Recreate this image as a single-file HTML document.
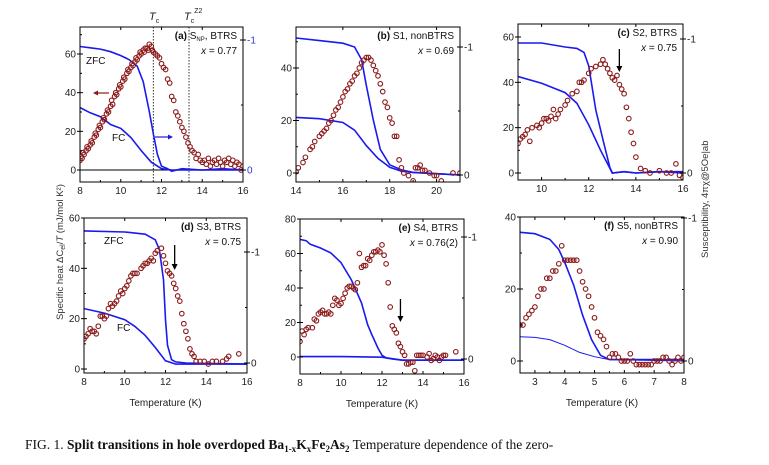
<!DOCTYPE html>
<html><head><meta charset="utf-8"><style>
body{margin:0;background:#fff;width:769px;height:460px;overflow:hidden;font-family:"Liberation Sans",sans-serif}
svg text{font-family:"Liberation Sans",sans-serif}
</style></head><body>
<svg id="fig" width="769" height="460" xmlns="http://www.w3.org/2000/svg">
<text x="0" y="0" font-size="9.5" fill="#333" transform="translate(63,320) rotate(-90)">Specific heat ΔC<tspan font-size="7" dy="2">el</tspan><tspan dy="-2">/</tspan><tspan font-style="italic">T</tspan> (mJ/mol K²)</text>
<text x="0" y="0" font-size="9.5" fill="#333" transform="translate(708,258) rotate(-90)">Susceptibility, 4πχ@5Oe|ab</text>
<text x="149" y="20" font-size="11" font-style="italic" fill="#222">T<tspan font-size="7" dy="3" font-style="normal">c</tspan></text>
<text x="184" y="20" font-size="11" font-style="italic" fill="#222">T<tspan font-size="7" dy="3" font-style="normal">c</tspan><tspan font-size="7" dy="-10" font-style="normal">Z2</tspan></text>
<text x="25" y="449" font-size="13.5" fill="#111" style="font-family:'Liberation Serif',serif">FIG. 1. <tspan font-weight="bold">Split transitions in hole overdoped Ba<tspan font-size="9" dy="3">1-x</tspan><tspan dy="-3">K</tspan><tspan font-size="9" dy="3">x</tspan><tspan dy="-3">Fe</tspan><tspan font-size="9" dy="3">2</tspan><tspan dy="-3">As</tspan><tspan font-size="9" dy="3">2</tspan></tspan><tspan dy="-3"> Temperature dependence of the zero-</tspan></text>
</svg>
<script>
// ---- data ----
const aCpT=[8,8.05,8.1,8.15,8.2,8.3,8.35,8.4,8.5,8.55,8.6,8.7,8.75,8.8,8.9,8.95,9,9.1,9.15,9.2,9.3,9.35,9.4,9.5,9.55,9.6,9.7,9.75,9.8,9.9,9.95,10,10.1,10.15,10.2,10.3,10.35,10.4,10.5,10.55,10.6,10.7,10.75,10.8,10.9,10.95,11,11.1,11.15,11.2,11.3,11.35,11.4,11.5,11.55,11.6,11.7,11.8,11.9,12,12.1,12.2,12.3,12.4,12.5,12.6,12.7,12.8,12.9,13,13.1,13.2,13.3,13.4,13.5,13.6,13.7,13.8,13.9,14,14.1,14.2,14.3,14.4,14.5,14.6,14.7,14.8,14.9,15,15.1,15.2,15.3,15.4,15.5,15.6,15.7,15.8,15.9,16];
const aCpV=[5,7,6,9,8,10,12,11,13,15,14,17,19,18,21,23,22,25,27,26,29,31,30,33,36,34,38,40,39,42,44,43,46,48,47,50,52,51,53,55,54,56,58,57,59,61,60,62,61,63,63,62,65,64,62,61,60,59,58,55,53,52,47,45,38,36,30,28,25,22,20,17,14,12,10,9,6,8,5,4,5,3,6,2,4,5,3,6,4,2,5,4,6,3,5,2,4,3,0,2];
const aZT=[8,8.5,9,9.5,10,10.4,10.8,11.1,11.4,11.6,11.8,12,12.3,12.5,13,14,15,16];
const aZV=[0.95,0.94,0.93,0.91,0.88,0.85,0.8,0.68,0.45,0.28,0.12,0.03,0.01,-0.01,0.01,0,0.01,0];
const aFT=[8,8.5,9,9.5,10,10.5,11,11.5,12,12.5,13,14,16];
const aFV=[0.48,0.44,0.41,0.35,0.32,0.25,0.15,0.06,0.01,0,0,0,0];

const bCpT=[14,14.1,14.3,14.4,14.6,14.7,14.8,15,15.1,15.2,15.3,15.4,15.5,15.6,15.7,15.8,15.9,16,16.1,16.2,16.3,16.4,16.5,16.6,16.7,16.8,16.9,17,17.1,17.2,17.3,17.4,17.5,17.6,17.7,17.8,17.9,18,18.1,18.2,18.3,18.4,18.5,18.6,18.8,19,19.1,19.2,19.3,19.4,19.5,19.7,19.9,20,20.2,20.7,21];
const bCpV=[0.5,2,4,6,9,10,12,14,15,16,17,19,20,22,24,25,27,29,31,32,34,35,37,38,40,42,43,44,44,43,41,39,37,34,31,27,25,21,19,14,14,5,2,0,-1,-3,2,2,3,1,1,0,-1,-1,-3,0,0];
const bZT=[14,15,16,16.5,16.8,17,17.3,17.6,18,18.5,19,20,21];
const bZV=[1.07,1.05,1.03,1.0,0.9,0.7,0.43,0.2,0.08,0.04,0.02,0.01,0];
const bFT=[14,15,16,16.5,17,17.5,18,18.5,19,20,21];
const bFV=[0.45,0.44,0.41,0.35,0.23,0.13,0.06,0.03,0.02,0.01,0];

const cCpT=[9,9.1,9.2,9.3,9.4,9.5,9.6,9.8,9.9,10,10.1,10.2,10.3,10.4,10.5,10.6,10.7,10.8,11,11.1,11.3,11.5,11.6,11.7,11.8,12,12.1,12.3,12.5,12.6,12.7,12.8,12.9,13,13.1,13.2,13.3,13.4,13.5,13.6,13.7,13.8,13.9,14,14.2,14.4,14.6,15,15.3,15.5,15.7,15.85,16];
const cCpV=[13,15,16,17,19,14,20,21,20,22,24,24,23,25,28,24,26,28,30,32,35,36,40,40,41,44,46,47,48,50,48,46,44,42,41,43,39,37,35,29,24,18,13,7,2,1,0,1,0,0,4,-1,-2];
const cZT=[9,10,11,11.5,11.8,12,12.3,12.6,12.9,13,13.5,14,15,16];
const cZV=[0.97,0.97,0.94,0.93,0.9,0.8,0.47,0.25,0.04,0,0.01,0,0.01,0.01];
const cFT=[9,10,11,11.5,12,12.5,13,13.5,14,15,16];
const cFV=[0.72,0.67,0.6,0.52,0.36,0.17,0,0.01,0,0.01,0];

const dCpT=[8,8.1,8.2,8.3,8.4,8.5,8.6,8.7,8.8,8.9,9,9.1,9.2,9.3,9.4,9.5,9.6,9.7,9.8,9.9,10,10.1,10.2,10.3,10.4,10.5,10.6,10.8,10.9,11,11.1,11.2,11.3,11.4,11.5,11.6,11.8,11.9,12,12.1,12.2,12.3,12.4,12.5,12.6,12.7,12.8,12.9,13,13.1,13.2,13.3,13.4,13.5,13.7,13.9,14.1,14.3,14.5,14.8,15,15.1,15.6];
const dCpV=[12,13,14,16,15,15,14,17,21,21,20,21,24,26,25,26,27,29,31,30,32,33,35,37,38,38,38,40,41,42,42,43,44,43,46,47,48,45,42,39,38,37,34,32,29,27,22,18,15,12,8,6,5,3,3,3,2,3,3,3,4,5,6];
const dZT=[8,10,11,11.5,11.7,11.9,12,12.1,12.3,12.5,13,16];
const dZV=[1.19,1.18,1.16,1.11,1.02,0.75,0.39,0.16,0.03,0.01,0,-0.01];
const dFT=[8,9,10,10.5,11,11.5,12,12.5,13,16];
const dFV=[0.49,0.45,0.39,0.33,0.25,0.14,0.02,-0.01,-0.01,-0.01];

const eCpT=[8,8.1,8.2,8.3,8.4,8.6,8.7,8.8,8.9,9,9.1,9.2,9.3,9.4,9.5,9.6,9.7,9.8,9.9,10,10.1,10.2,10.3,10.4,10.5,10.6,10.7,10.8,10.9,11,11.1,11.2,11.3,11.4,11.5,11.6,11.7,11.8,11.9,12,12.1,12.2,12.3,12.4,12.5,12.6,12.7,12.8,12.9,13,13.1,13.2,13.3,13.4,13.5,13.6,13.7,13.8,13.9,14,14.2,14.3,14.4,14.5,14.6,14.7,14.8,14.9,15,15.1,15.6];
const eCpV=[9,15,13,16,17,17,22,21,25,26,27,25,25,26,25,30,34,33,30,31,34,37,40,41,41,40,39,43,60,52,53,53,57,56,59,61,61,62,61,65,59,54,43,29,18,16,14,8,6,3,1,-4,-4,-3,-3,-8,1,1,1,1,0,2,-2,-1,1,0,-2,0,1,1,3];
const eZT=[8,8.3,8.5,9,9.5,10,10.5,11,11.3,11.5,11.8,12,12.2,13,16];
const eZV=[0.98,0.97,0.94,0.91,0.87,0.79,0.65,0.46,0.28,0.2,0.09,0.03,0.01,-0.01,-0.01];
const eFT=[8,10,12,12.5,13,16];
const eFV=[0.02,0.02,0.015,0,-0.01,-0.01];

const fCpT=[2.5,2.6,2.7,2.8,2.9,3,3.1,3.2,3.3,3.4,3.5,3.6,3.7,3.8,3.9,4,4.1,4.2,4.3,4.4,4.5,4.6,4.7,4.8,4.9,5,5.1,5.2,5.3,5.4,5.5,5.6,5.7,5.8,5.9,6,6.1,6.2,6.3,6.4,6.5,6.6,6.7,6.8,6.9,7,7.1,7.2,7.3,7.4,7.5,7.6,7.7,7.8,7.9,8];
const fCpV=[10,10,12,13,14,15,18,20,20,23,23,25,25,27,32,28,28,28,28,28,25,22,20,18,15,12,8,7,6,4,1,2,2,1,0,0,0,2,0,-1,-1,-1,-1,-1,-1,0,0,0,1,1,0,-1,0,1,0,1];
const fZT=[2.5,3,3.5,3.8,4,4.3,4.6,4.9,5.2,5.5,6,8];
const fZV=[0.9,0.89,0.85,0.78,0.69,0.53,0.32,0.15,0.04,0.01,0.01,0.01];
const fFT=[2.5,3,3.5,4,4.5,5,5.5,8];
const fFV=[0.17,0.165,0.15,0.11,0.06,0.03,0.01,0];

const panels=[
 {id:'a',L:80,R:243,T:27,B:182,x0:8,x1:16,xt:[8,10,12,14,16],xm:[9,11,13,15],yA:[0,170],yB:[60,54],yt:[0,20,40,60],ym:[10,30,50,70],r0:170,r1:40,cpT:aCpT,cpV:aCpV,zT:aZT,zV:aZV,fT:aFT,fV:aFV,title:'(a)',ttl:' S',sub:'NP',ttl2:', BTRS',xv:'0.77',xlab:false,blueR:true},
 {id:'b',L:296,R:460,T:27,B:182,x0:14,x1:21,xt:[14,16,18,20],xm:[15,17,19,21],yA:[0,173],yB:[40,68],yt:[0,20,40],ym:[10,30,50],r0:175,r1:47,cpT:bCpT,cpV:bCpV,zT:bZT,zV:bZV,fT:bFT,fV:bFV,title:'(b)',ttl:' S1, nonBTRS',xv:'0.69'},
 {id:'c',L:518,R:683,T:24,B:180,x0:9,x1:16,xt:[10,12,14,16],xm:[9,11,13,15],yA:[0,173],yB:[60,37],yt:[0,20,40,60],ym:[10,30,50],r0:173,r1:39,cpT:cCpT,cpV:cCpV,zT:cZT,zV:cZV,fT:cFT,fV:cFV,title:'(c)',ttl:' S2, BTRS',xv:'0.75',arrow:[13.3,49,72]},
 {id:'d',L:84,R:247,T:218,B:373,x0:8,x1:16,xt:[8,10,12,14,16],xm:[9,11,13,15],yA:[0,369],yB:[60,218],yt:[0,20,40,60],ym:[10,30,50],r0:363,r1:252,cpT:dCpT,cpV:dCpV,zT:dZT,zV:dZV,fT:dFT,fV:dFV,title:'(d)',ttl:' S3, BTRS',xv:'0.75',xlab:true,arrow:[12.45,245,270],labels:[['ZFC',104,244],['FC',117,331]]},
 {id:'e',L:300,R:464,T:219,B:374,x0:8,x1:16,xt:[8,10,12,14,16],xm:[9,11,13,15],yA:[0,357],yB:[80,219],yt:[0,20,40,60,80],ym:[10,30,50,70],r0:359,r1:237,cpT:eCpT,cpV:eCpV,zT:eZT,zV:eZV,fT:eFT,fV:eFV,title:'(e)',ttl:' S4, BTRS',xv:'0.76(2)',xlab:true,arrow:[12.9,299,322]},
 {id:'f',L:520,R:684,T:217,B:373,x0:2.5,x1:8,xt:[3,4,5,6,7,8],xm:[2.5,3.5,4.5,5.5,6.5,7.5],yA:[0,361],yB:[40,217],yt:[0,20,40],ym:[10,30],r0:361,r1:218,cpT:fCpT,cpV:fCpV,zT:fZT,zV:fZV,fT:fFT,fV:fFV,title:'(f)',ttl:' S5, nonBTRS',xv:'0.90',xlab:true,thinFC:true}
];
const svg=document.getElementById('fig');
const NS='http://www.w3.org/2000/svg';
function mk(tag,attrs,parent){const e=document.createElementNS(NS,tag);for(const k in attrs)e.setAttribute(k,attrs[k]);(parent||svg).appendChild(e);return e;}
panels.forEach(p=>{
 const g=mk('g',{});
 
 
 const X=v=>p.L+(v-p.x0)/(p.x1-p.x0)*(p.R-p.L);
 const Y=v=>p.yA[1]+(v-p.yA[0])*(p.yB[1]-p.yA[1])/(p.yB[0]-p.yA[0]);
 const YR=v=>p.r0+v*(p.r1-p.r0);
 const cid='clip'+p.id;
 const cp=mk('clipPath',{id:cid},g);mk('rect',{x:p.L,y:p.T,width:p.R-p.L,height:p.B-p.T},cp);
 const plot=mk('g',{'clip-path':'url(#'+cid+')'},g);
 if(p.id==='a'){
  const z=mk('line',{x1:p.L,x2:p.R,y1:Y(0),y2:Y(0),stroke:'#000','stroke-width':1},plot);
  
  [11.6,13.35].forEach((t,i)=>{const l=mk('line',{x1:X(t),x2:X(t),y1:p.T,y2:p.B,stroke:'#333','stroke-width':1,'stroke-dasharray':'1.5,1.5'},plot);
   });
 }
 const line=(T,V,name,w)=>{const path=mk('path',{d:T.map((t,i)=>(i?'L':'M')+X(t).toFixed(1)+','+YR(V[i]).toFixed(1)).join(''),fill:'none',stroke:'#1a1aee','stroke-width':w},plot);
  };
 line(p.zT,p.zV,'zfc-curve',1.6);
 line(p.fT,p.fV,'fc-curve',p.thinFC?1:1.6);
 p.cpT.forEach((t,i)=>{const c=mk('circle',{cx:X(t).toFixed(1),cy:Y(p.cpV[i]).toFixed(1),r:2.3,fill:'none',stroke:'#8b1a1a','stroke-width':1.1},plot);
  });
 const fr=mk('rect',{x:p.L,y:p.T,width:p.R-p.L,height:p.B-p.T,fill:'none',stroke:'#000','stroke-width':1},g);
 
 p.xt.forEach(t=>{mk('line',{x1:X(t),x2:X(t),y1:p.B,y2:p.B-3,stroke:'#000'},g);mk('line',{x1:X(t),x2:X(t),y1:p.T,y2:p.T+3,stroke:'#000'},g);
  const tx=mk('text',{x:X(t),y:p.B+12,'font-size':10,'text-anchor':'middle',fill:'#222'},g);tx.textContent=t;
  });
 p.xm.forEach(t=>{mk('line',{x1:X(t),x2:X(t),y1:p.B,y2:p.B-2,stroke:'#000'},g);});
 p.yt.forEach(v=>{mk('line',{x1:p.L-3,x2:p.L+3,y1:Y(v),y2:Y(v),stroke:'#000'},g);
  const tx=mk('text',{x:p.L-4,y:Y(v)+3.5,'font-size':10,'text-anchor':'end',fill:'#222'},g);tx.textContent=v;
  });
 p.ym.forEach(v=>{if(Y(v)>p.T)mk('line',{x1:p.L,x2:p.L+2,y1:Y(v),y2:Y(v),stroke:'#000'},g);});
 [[0,'0'],[1,'-1']].forEach(([v,lab])=>{mk('line',{x1:p.R-3,x2:p.R+3,y1:YR(v),y2:YR(v),stroke:'#000'},g);
  const tx=mk('text',{x:p.R+4,y:YR(v)+3.5,'font-size':10,fill:p.blueR?'#3333dd':'#222'},g);tx.textContent=lab;
  });
 mk('line',{x1:p.R-2,x2:p.R,y1:YR(0.5),y2:YR(0.5),stroke:'#000'},g);
 const t1=mk('text',{x:p.R-6,y:p.T+12,'font-size':10,'text-anchor':'end',fill:'#111'},g);
 t1.innerHTML='<tspan font-weight="bold">'+p.title+'</tspan>'+p.ttl+(p.sub?'<tspan font-size="6" dy="2">'+p.sub+'</tspan><tspan dy="-2">'+p.ttl2+'</tspan>':'');
 
 const t2=mk('text',{x:p.R-6,y:p.T+27,'font-size':10,'text-anchor':'end',fill:'#111'},g);
 t2.innerHTML='<tspan font-style="italic">x</tspan> = '+p.xv;
 
 if(p.xlab){const xl=mk('text',{x:(p.L+p.R)/2,y:p.B+33,'font-size':10,'text-anchor':'middle',fill:'#222'},g);xl.textContent='Temperature (K)';
  }
 if(p.arrow){const [t,y1,y2]=p.arrow;const ax=X(t);
  const a=mk('g',{},g);
  mk('line',{x1:ax,x2:ax,y1:y1,y2:y2-5,stroke:'#000','stroke-width':1.3},a);
  mk('path',{d:`M${ax-3},${y2-6}L${ax+3},${y2-6}L${ax},${y2}Z`,fill:'#000'},a);}
 (p.labels||[]).forEach(([s,x,y])=>{const tx=mk('text',{x:x,y:y,'font-size':10,fill:'#111'},g);tx.textContent=s;
  });
 if(p.id==='a'){
  [['ZFC',86,64],['FC',112,141]].forEach(([s,x,y])=>{const tx=mk('text',{x:x,y:y,'font-size':10,fill:'#111'},g);tx.textContent=s;
   });
  const la=mk('g',{},g);
  mk('line',{x1:109,x2:96,y1:93,y2:93,stroke:'#8b1a1a','stroke-width':1.2},la);mk('path',{d:'M93,93L98,90.5L98,95.5Z',fill:'#8b1a1a'},la);
  const ra=mk('g',{},g);
  mk('line',{x1:155,x2:169,y1:137,y2:137,stroke:'#1a1aee','stroke-width':1.2},ra);mk('path',{d:'M173,137L168,134.5L168,139.5Z',fill:'#1a1aee'},ra);
 }
});
</script>
</body></html>
